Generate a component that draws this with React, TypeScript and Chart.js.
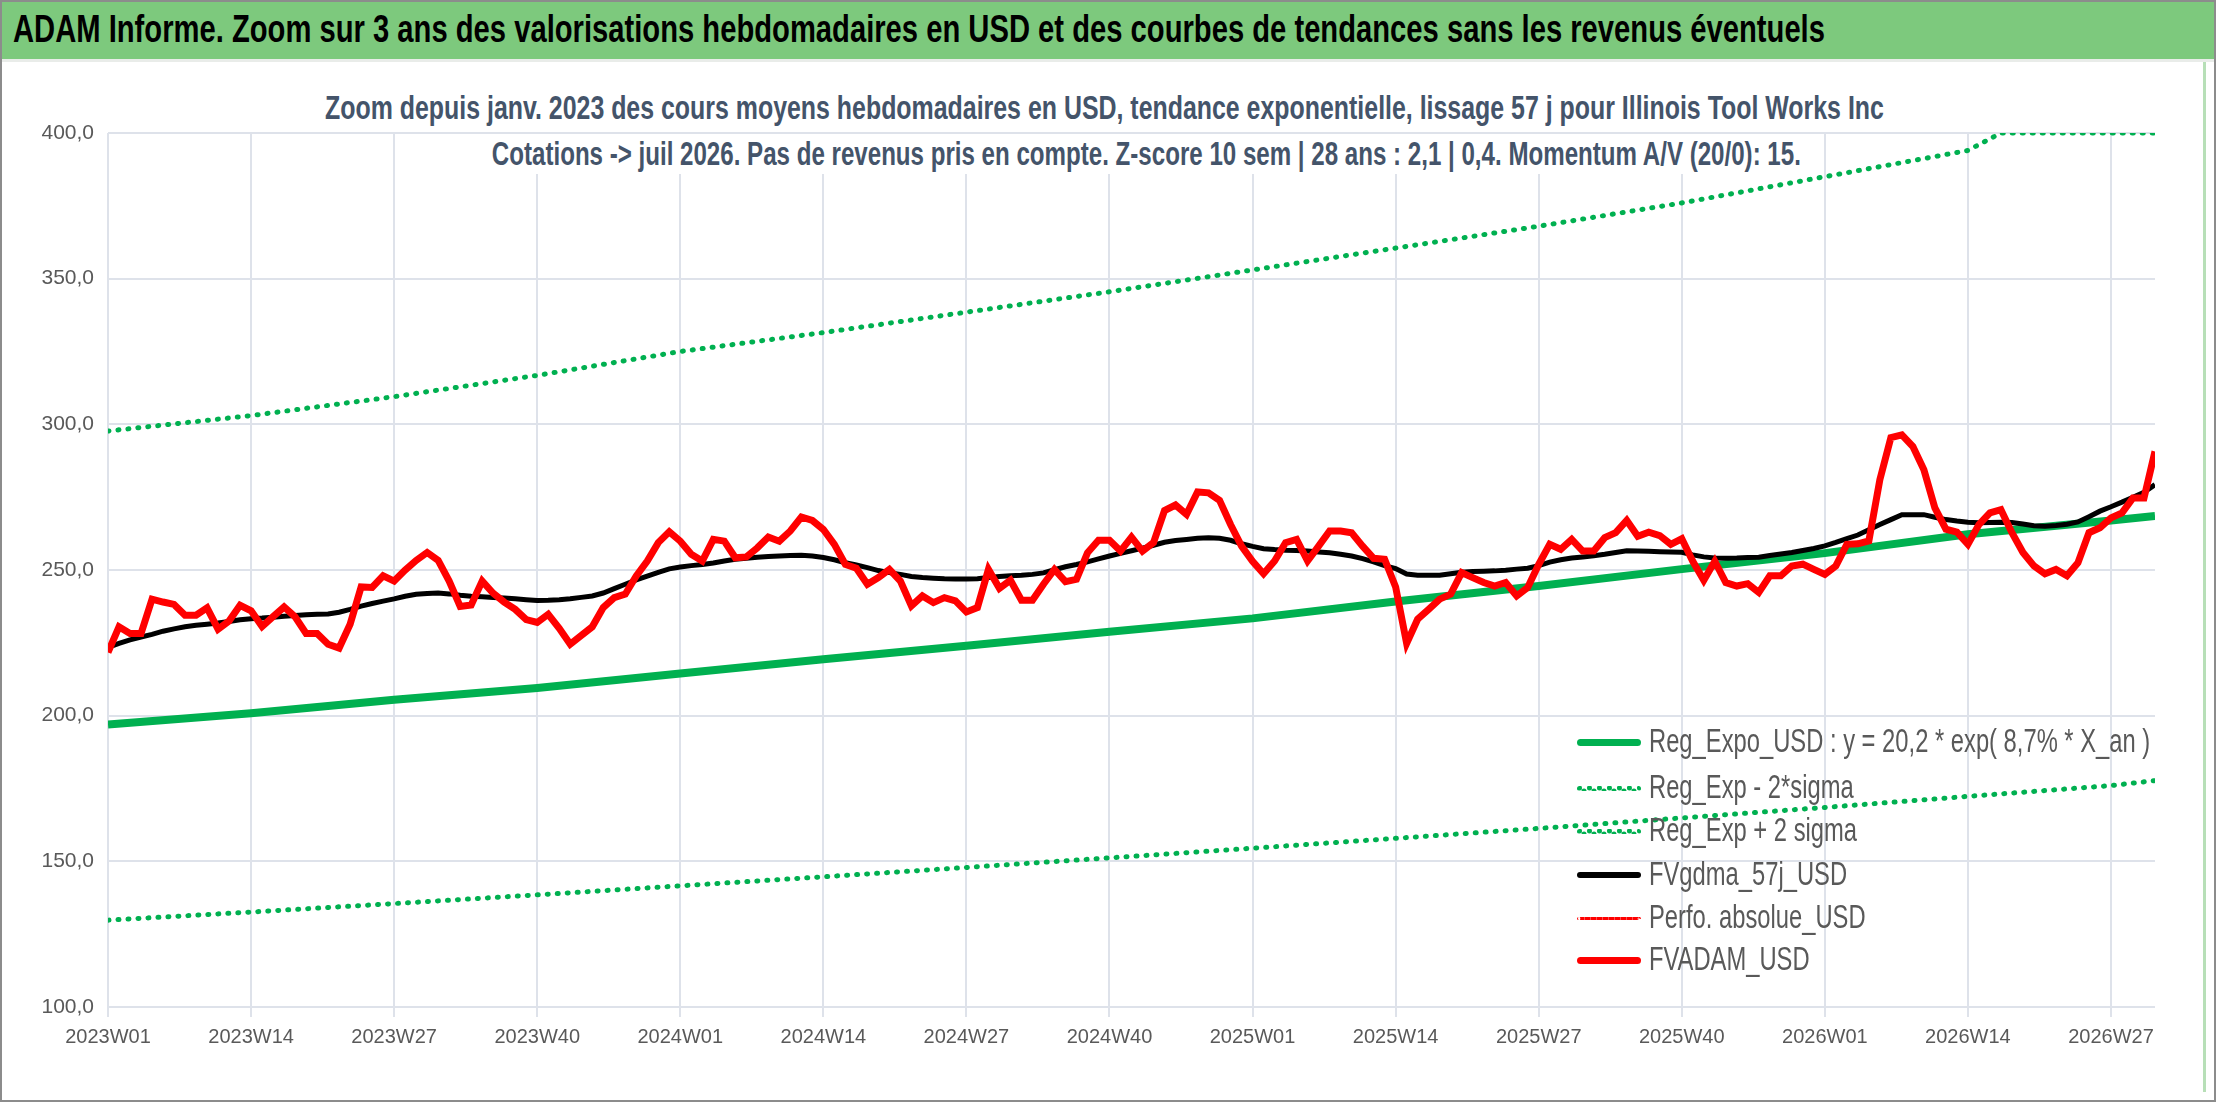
import { useEffect, useRef } from "react"
import { Chart, registerables } from "chart.js"

Chart.register(...registerables)

// x tick labels, one every 13 weeks (week index 0 = 2023W01)
const tickLabels = [
  "2023W01", "2023W14", "2023W27", "2023W40",
  "2024W01", "2024W14", "2024W27", "2024W40",
  "2025W01", "2025W14", "2025W27", "2025W40",
  "2026W01", "2026W14", "2026W27",
]

// FVADAM_USD, weekly
const fvadam = [
  221.7, 230.5, 228.2, 228.2, 240, 239, 238.2, 234.5, 234.5, 237, 229.7, 232.5, 237.9, 236, 230.6, 234,
  237.3, 233.9, 228.2, 228.2, 224.5, 223.2, 231.4, 244.2, 244, 248, 246.2, 250, 253.3, 256, 253.3, 246.2,
  237.5, 238, 246.2, 242, 239, 236.5, 233, 232, 234.8, 230, 224.5, 227.5, 230.5, 237.1, 240.5, 241.7,
  248, 253.1, 259.4, 263.1, 259.9, 255.4, 253.1, 260.5, 259.9, 254.2, 254.5, 257.6, 261.3, 259.9, 263.4, 268.2,
  267, 263.9, 258.8, 251.9, 250.6, 245.1, 247.4, 250.2, 246.2, 237.7, 241.1, 238.8, 240.5, 239.4, 235.6, 237.1,
  250.2, 243.7, 246.5, 239.6, 239.6, 245.1, 250.2, 246, 246.8, 255.9, 260.2, 260.2, 256.5, 261.3, 256.5, 259.4,
  270.4, 272.3, 269.1, 276.8, 276.5, 273.9, 265.6, 258.2, 253, 248.7, 253.1, 259.4, 260.5, 253.1, 258.2, 263.4,
  263.4, 262.8, 258.2, 254, 253.7, 244.2, 224.8, 233.1, 236.5, 240, 241.7, 249.1, 247.4, 245.7, 244.5, 245.7,
  241.1, 244, 251.9, 258.8, 257.1, 260.5, 256.5, 256.5, 261.1, 262.8, 267, 261.6, 263, 261.8, 258.8, 260.7,
  253, 246.5, 253, 245.7, 244.5, 245.3, 242.3, 248, 248, 251.4, 252, 250.2, 248.5, 251.4, 258.8, 259,
  260, 281, 295.4, 296.4, 292.4, 284.4, 271.3, 264, 263, 258.8, 265.6, 269.6, 270.7, 262.8, 256, 251.4,
  248.7, 250.2, 248, 252.5, 262.8, 264.5, 267.9, 269.6, 274.7, 274.7, 290.7,
]

// FVgdma_57j_USD, weekly
const fvgdma = [
  223.4, 224.8, 226, 227, 227.9, 229, 229.8, 230.5, 231, 231.4, 231.8, 232.3, 232.9, 233.3, 233.5, 233.8,
  234.1, 234.4, 234.6, 234.8, 234.9, 235.5, 236.5, 237.6, 238.5, 239.3, 240.1, 241, 241.7, 241.9, 242.1, 241.8,
  241.3, 241, 240.8, 240.6, 240.4, 240.1, 239.8, 239.5, 239.6, 239.8, 240.1, 240.6, 241.1, 242.1, 243.6, 245.1,
  246.6, 247.9, 249.2, 250.4, 251, 251.5, 251.9, 252.4, 253.1, 253.7, 254, 254.4, 254.6, 254.8, 255, 255.1,
  254.8, 254.3, 253.5, 252.5, 251.7, 250.8, 249.8, 249.1, 248.5, 247.8, 247.4, 247.2, 247, 246.9, 246.9, 247,
  247.4, 247.8, 248, 248.2, 248.5, 249, 250.1, 251.1, 251.9, 252.8, 253.8, 254.8, 255.7, 256.6, 257.5, 258.5,
  259.5, 260.1, 260.5, 260.9, 261.1, 260.9, 260.2, 259, 258.1, 257.3, 257, 256.8, 256.7, 256.5, 256.2, 255.9,
  255.4, 254.8, 253.9, 252.8, 251.5, 250.5, 248.6, 248.2, 248.2, 248.2, 248.7, 249.2, 249.5, 249.6, 249.7, 249.9,
  250.3, 250.6, 251.5, 252.7, 253.5, 254.1, 254.5, 254.9, 255.4, 256, 256.6, 256.5, 256.4, 256.3, 256.2, 256.1,
  255.2, 254.5, 254.1, 254, 254.1, 254.3, 254.4, 255, 255.5, 256, 256.7, 257.4, 258.3, 259.5, 260.8, 262,
  263.8, 265.6, 267.3, 269, 269, 269, 268.1, 267.3, 266.8, 266.4, 266.2, 266.3, 266.4, 266.3, 265.8, 265.2,
  265, 265.3, 265.7, 266.5, 268.3, 270.2, 271.7, 273.3, 275, 276.7, 279.3,
]

// trend curves, read at the tick weeks
const trendWeeks = [0, 13, 26, 39, 52, 65, 78, 91, 104, 117, 130, 143, 156, 169, 182, 186]
const regExpo = [197, 200.8, 205.5, 209.5, 214.5, 219.4, 224, 228.8, 233.4, 239.2, 244.5, 250.3, 255.8, 262.3, 267, 268.5]
const regMinus = [129.8, 132.6, 135.5, 138.5, 141.6, 144.7, 147.9, 151.2, 154.5, 157.9, 161.3, 164.9, 168.5, 172.3, 176, 177.7]
const plusWeeks = [0, 13, 26, 39, 52, 65, 78, 91, 104, 117, 130, 143, 156, 169, 172, 186]
const regPlus = [297.7, 303, 309.5, 316.8, 325, 331.5, 338.5, 345.5, 353, 360.5, 368, 376, 385, 394, 400, 400]

const FONT = "'Liberation Sans', Arial, sans-serif"
const GREEN = "#00B050"

const pts = (xs: number[], ys: number[]) => ys.map((y, i) => ({ x: xs[i], y }))
const weekly = (ys: number[]) => ys.map((y, i) => ({ x: i, y }))

const legendItems = [
  { label: "Reg_Expo_USD : y = 20,2 * exp( 8,7% *  X_an )", color: GREEN, dotted: false, w: 7 },
  { label: "Reg_Exp - 2*sigma", color: GREEN, dotted: true, w: 5 },
  { label: "Reg_Exp + 2 sigma", color: GREEN, dotted: true, w: 5 },
  { label: "FVgdma_57j_USD", color: "#000000", dotted: false, w: 6 },
  { label: "Perfo. absolue_USD", color: "#FF0000", dotted: true, w: 3 },
  { label: "FVADAM_USD", color: "#FF0000", dotted: false, w: 7 },
]

// squeeze a text element horizontally to a target width (the original font is condensed)
function Squeezed({ text, left, top, width, size, bold, color, bg, scaleFrom }: {
  text: string; left: number; top: number; width?: number; size: number; bold?: boolean; color: string; bg?: boolean; scaleFrom?: number
}) {
  const ref = useRef<HTMLSpanElement>(null)
  useEffect(() => {
    const el = ref.current
    if (!el) return
    const s = scaleFrom ?? (width ? width / el.offsetWidth : 1)
    el.style.transform = `scaleX(${s})`
  }, [width, scaleFrom])
  return (
    <span
      ref={ref}
      style={{
        position: "absolute", left, top, fontSize: size, fontWeight: bold ? "bold" : "normal", color,
        whiteSpace: "nowrap", transformOrigin: "left center", lineHeight: 1.2, fontFamily: FONT,
        background: bg ? "#fff" : "transparent", padding: bg ? "0 8px" : 0,
      }}
    >
      {text}
    </span>
  )
}

export default function App() {
  const chartRef = useRef<HTMLCanvasElement>(null)
  const chartInstance = useRef<Chart | null>(null)

  useEffect(() => {
    document.body.style.margin = "0"
    if (!chartRef.current) return
    if (chartInstance.current) chartInstance.current.destroy()
    const ctx = chartRef.current.getContext("2d")
    if (!ctx) return

    chartInstance.current = new Chart(ctx, {
      type: "line",
      data: {
        datasets: [
          { label: "Reg_Expo_USD", data: pts(trendWeeks, regExpo), borderColor: GREEN, borderWidth: 8, pointRadius: 0, order: 5 },
          { label: "Reg_Exp - 2*sigma", data: pts(trendWeeks, regMinus), borderColor: GREEN, borderWidth: 5, borderDash: [1, 9], borderCapStyle: "round", pointRadius: 0, order: 6 },
          { label: "Reg_Exp + 2 sigma", data: pts(plusWeeks, regPlus), borderColor: GREEN, borderWidth: 5, borderDash: [1, 9], borderCapStyle: "round", pointRadius: 0, order: 6 },
          { label: "FVgdma_57j_USD", data: weekly(fvgdma), borderColor: "#000000", borderWidth: 5, pointRadius: 0, order: 2 },
          { label: "Perfo. absolue_USD", data: [], borderColor: "#FF0000", borderWidth: 3, borderDash: [2, 4], pointRadius: 0 },
          { label: "FVADAM_USD", data: weekly(fvadam), borderColor: "#FF0000", borderWidth: 7, pointRadius: 0, order: 1 },
        ],
      },
      options: {
        responsive: false,
        animation: false,
        layout: { padding: { top: 71, right: 59, bottom: 20, left: 0 } },
        plugins: { legend: { display: false }, tooltip: { enabled: false } },
        scales: {
          x: {
            type: "linear",
            min: 0,
            max: 186,
            afterBuildTicks: (scale) => {
              scale.ticks = tickLabels.map((_, i) => ({ value: i * 13 }))
            },
            afterFit: (scale) => {
              scale.height = 75
            },
            ticks: {
              autoSkip: false,
              maxRotation: 0,
              padding: 8,
              color: "#595959",
              font: { family: FONT, size: 20 },
              callback: (v) => tickLabels[Math.round(Number(v) / 13)] ?? "",
            },
            grid: { color: "#DEE2EA", lineWidth: 2, tickLength: 10 },
            border: { display: false },
          },
          y: {
            min: 100,
            max: 400,
            afterFit: (scale) => {
              scale.width = 106
            },
            ticks: {
              stepSize: 50,
              padding: 14,
              color: "#595959",
              font: { family: FONT, size: 21 },
              callback: (v) => Number(v).toFixed(1).replace(".", ","),
            },
            grid: { color: "#DEE2EA", lineWidth: 2, drawTicks: false },
            border: { display: false },
          },
        },
      },
    })

    return () => {
      if (chartInstance.current) chartInstance.current.destroy()
    }
  }, [])

  const legendTops = [740, 786, 829, 873, 916, 958]

  return (
    <div style={{ position: "fixed", left: 0, top: 0, width: 2216, height: 1102, background: "#fff", boxSizing: "border-box", border: "2px solid #8c8c8c", overflow: "hidden", fontFamily: FONT }}>
      <div style={{ position: "absolute", left: 0, top: 0, width: 2216, height: 57, background: "#7DC97D", borderBottom: "3px solid #e9ece9" }} />
      <Squeezed text="ADAM Informe. Zoom sur 3 ans des valorisations hebdomadaires en USD et des courbes de tendances sans les revenus éventuels" left={11} top={4} width={1812} size={39} bold color="#000" />
      <canvas ref={chartRef} width={2212} height={1040} style={{ position: "absolute", left: 0, top: 60 }} />
      <Squeezed text="Zoom depuis janv. 2023 des cours moyens hebdomadaires en USD, tendance exponentielle, lissage 57 j pour Illinois Tool Works Inc" left={317} top={86} width={1571} size={33} bold color="#44546A" bg />
      <Squeezed text="Cotations -> juil 2026. Pas de revenus pris en compte. Z-score 10 sem | 28 ans : 2,1 | 0,4. Momentum A/V (20/0): 15." left={484} top={132} width={1321} size={33} bold color="#44546A" bg />
      {legendItems.map((it, i) => (
        <div key={it.label}>
          <div style={{ position: "absolute", left: 1575, top: legendTops[i] - it.w / 2, width: 64, height: 0, borderTop: `${it.w}px ${it.dotted ? "dotted" : "solid"} ${it.color}`, borderRadius: 4 }} />
          <Squeezed text={it.label} left={1647} top={legendTops[i] - 21} size={33} color="#595959" scaleFrom={0.72} />
        </div>
      ))}
      <div style={{ position: "absolute", right: 8, top: 60, width: 3, height: 1030, background: "#b7dfb7" }} />
    </div>
  )
}
